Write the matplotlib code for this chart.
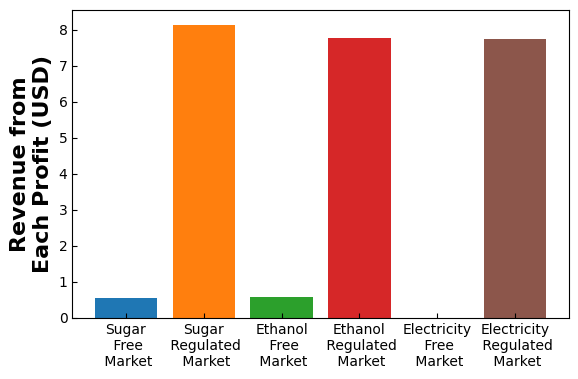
import matplotlib
matplotlib.use("Agg")
import matplotlib.pyplot as plt

categories = ['Sugar\n Free\n Market', 'Sugar\n Regulated\n Market',
              'Ethanol\n Free\n Market', 'Ethanol\n Regulated\n Market',
              'Electricity\n Free\n Market', 'Electricity\n Regulated\n Market']
revenue = [0.55, 8.14, 0.58, 7.78, 0.0, 7.75]
colors = ['tab:blue', 'tab:orange', 'tab:green', 'tab:red', 'tab:purple', 'tab:brown']

fig, ax = plt.subplots(figsize=(5.78, 3.79), dpi=100)
fig.subplots_adjust(left=0.125, right=0.984, top=0.974, bottom=0.161)

ax.bar(range(len(categories)), revenue, color=colors)
ax.set_xticks(range(len(categories)))
ax.set_xticklabels(categories)
ax.tick_params(direction='in')
ax.set_ylabel('Revenue from\nEach Profit (USD)', fontsize=16, fontweight='bold')

fig.savefig('out.png')
